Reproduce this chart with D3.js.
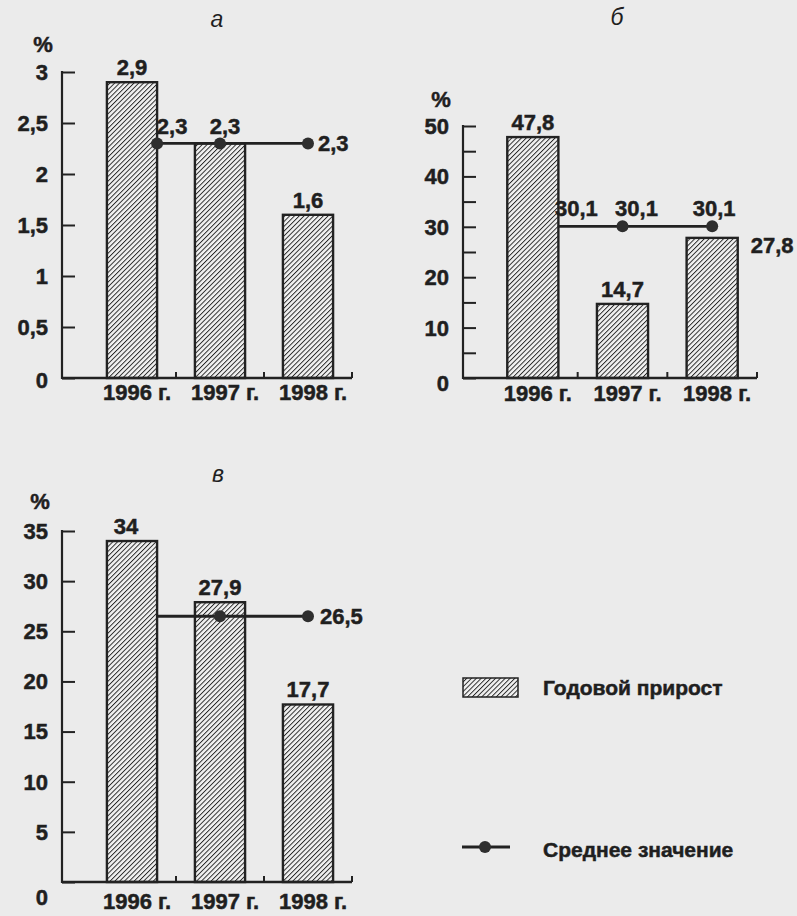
<!DOCTYPE html>
<html>
<head>
<meta charset="utf-8">
<script src="https://cdn.jsdelivr.net/npm/d3@7"></script>
<style>
  html, body { margin: 0; padding: 0; background: #ebebeb; }
  svg { display: block; }
  text { font-family: "Liberation Sans", Arial, sans-serif; fill: #1f1f1f; }
  text.b { font-weight: bold; stroke: #1f1f1f; stroke-width: 0.5; }
</style>
</head>
<body>
<div id="chart"></div>
<script>
// Data
const years = ['1996 г.', '1997 г.', '1998 г.'];

const growthA = [2.9, 2.3, 1.6];
const meanA = [2.3, 2.3, 2.3];
const ticksA = [0, 0.5, 1, 1.5, 2, 2.5, 3];

const growthB = [47.8, 14.7, 27.8];
const meanB = [30.1, 30.1, 30.1];
const ticksB = [0, 5, 10, 15, 20, 25, 30, 35, 40, 45, 50];
const labelsB = [0, 10, 20, 30, 40, 50];

const growthC = [34, 27.9, 17.7];
const meanC = [26.5, 26.5, 26.5];
const ticksC = [0, 5, 10, 15, 20, 25, 30, 35];

const legendItems = ['Годовой прирост', 'Среднее значение'];

const width = 797;
const height = 916;
const ink = '#222';
const fs = 22;
const fmt = v => String(v).replace('.', ',');

const svg = d3.select('#chart')
  .append('svg')
  .attr('width', width)
  .attr('height', height);

// hatch pattern
const hs = 3.4;
const defs = svg.append('defs');
const pat = defs.append('pattern')
  .attr('id', 'hatch')
  .attr('patternUnits', 'userSpaceOnUse')
  .attr('width', hs)
  .attr('height', hs)
  .attr('patternTransform', 'rotate(45)');
pat.append('rect').attr('width', hs).attr('height', hs).attr('fill', '#f2f2f2');
pat.append('line')
  .attr('x1', 0).attr('y1', 0).attr('x2', 0).attr('y2', hs)
  .attr('stroke', '#262626').attr('stroke-width', 1.9);

// panel layouts
const charts = [
  {
    title: 'а', growth: growthA, mean: meanA, ticks: ticksA, labels: ticksA, domain: [0, 3],
    axisX: 62, band: [88, 352], y0: 378, y1: 72,
    titlePos: [217, 27], pctPos: [43, 52], yearY: 400, zeroDy: 2,
    firstDot: true,
    meanLabels: [{ dx: 15, dy: -9 }, { dx: 5, dy: -9 }, { dx: 10, dy: 8, anchor: 'start' }],
    barLabels: [{}, null, {}]
  },
  {
    title: 'б', growth: growthB, mean: meanB, ticks: ticksB, labels: labelsB, domain: [0, 50],
    axisX: 463, band: [488, 757], y0: 378, y1: 126,
    titlePos: [617, 25], pctPos: [441, 107], yearY: 401, zeroDy: 5,
    firstDot: false,
    meanLabels: [{ dx: 18, dy: -10 }, { dx: 14, dy: -10 }, { dx: 2, dy: -10 }],
    barLabels: [{}, {}, { right: true }]
  },
  {
    title: 'в', growth: growthC, mean: meanC, ticks: ticksC, labels: ticksC, domain: [0, 35],
    axisX: 62, band: [88, 352], y0: 882, y1: 531,
    titlePos: [218, 482], pctPos: [40, 509], yearY: 909, zeroDy: 15,
    firstDot: false,
    meanLabels: [null, null, { dx: 12, dy: 8, anchor: 'start' }],
    barLabels: [{ dx: -6 }, {}, {}]
  }
];

charts.forEach(c => {
  const g = svg.append('g');
  const x = d3.scaleBand().domain(years).range(c.band).paddingInner(0.43).paddingOuter(0.215);
  const y = d3.scaleLinear().domain(c.domain).range([c.y0, c.y1]);

  // title and unit
  g.append('text').attr('x', c.titlePos[0]).attr('y', c.titlePos[1])
    .attr('text-anchor', 'middle').attr('font-style', 'italic')
    .attr('font-size', 23).text(c.title);
  g.append('text').attr('class', 'b').attr('x', c.pctPos[0]).attr('y', c.pctPos[1])
    .attr('text-anchor', 'middle')
    .attr('font-size', fs).text('%');

  // bars
  g.selectAll('rect.bar')
    .data(c.growth)
    .enter()
    .append('rect')
    .attr('class', 'bar')
    .attr('x', (d, i) => x(years[i]))
    .attr('y', d => y(d))
    .attr('width', x.bandwidth())
    .attr('height', d => c.y0 - y(d))
    .attr('fill', 'url(#hatch)')
    .attr('stroke', ink)
    .attr('stroke-width', 2.4);

  // y axis
  const yAxis = d3.axisRight(y).tickValues(c.ticks).tickSize(13).tickFormat('');
  const ya = g.append('g').attr('transform', `translate(${c.axisX},0)`).call(yAxis);
  ya.select('.domain').remove();
  ya.selectAll('line').attr('stroke', ink).attr('stroke-width', 2);
  g.append('line').attr('x1', c.axisX).attr('x2', c.axisX)
    .attr('y1', y(c.domain[0]) + 1).attr('y2', y(c.domain[1]) - 1)
    .attr('stroke', ink).attr('stroke-width', 2.2);

  g.selectAll('text.tick-label')
    .data(c.labels)
    .enter()
    .append('text')
    .attr('class', 'b')
    .attr('x', c.axisX - 14)
    .attr('y', d => y(d) + (d === 0 ? c.zeroDy : 0))
    .attr('dy', '0.36em')
    .attr('text-anchor', 'end')
    .attr('font-size', fs)
    .text(fmt);

  // x axis with boundary ticks
  g.append('line').attr('x1', c.axisX).attr('x2', c.band[1])
    .attr('y1', c.y0).attr('y2', c.y0)
    .attr('stroke', ink).attr('stroke-width', 2.4);
  g.selectAll('line.xtick')
    .data(years)
    .enter()
    .append('line')
    .attr('class', 'xtick')
    .attr('x1', d => x(d) + x.step() * 0.785)
    .attr('x2', d => x(d) + x.step() * 0.785)
    .attr('y1', c.y0).attr('y2', c.y0 - 6)
    .attr('stroke', ink).attr('stroke-width', 2);

  g.selectAll('text.year')
    .data(years)
    .enter()
    .append('text')
    .attr('class', 'b')
    .attr('x', d => x(d) + x.bandwidth() / 2 + 5)
    .attr('y', c.yearY)
    .attr('text-anchor', 'middle')
    .attr('font-size', fs)
    .text(d => d);

  // bar value labels
  c.growth.forEach((v, i) => {
    const p = c.barLabels[i];
    if (!p) return;
    const t = g.append('text').attr('class', 'b').attr('font-size', fs).text(fmt(v));
    if (p.right) {
      t.attr('x', x(years[i]) + x.bandwidth() + 13).attr('y', y(v) + 15).attr('text-anchor', 'start');
    } else {
      t.attr('x', x(years[i]) + x.bandwidth() / 2 + (p.dx || 0)).attr('y', y(v) - 7).attr('text-anchor', 'middle');
    }
  });

  // mean line
  const px = i => i === 0 ? x(years[0]) + x.bandwidth() : x(years[i]) + x.bandwidth() / 2;
  const line = d3.line().x((d, i) => px(i)).y(d => y(d));
  g.append('path').datum(c.mean)
    .attr('d', line)
    .attr('fill', 'none')
    .attr('stroke', ink)
    .attr('stroke-width', 2.8);
  g.selectAll('circle.dot')
    .data(c.mean.map((d, i) => ({ v: d, i })).filter(d => d.i > 0 || c.firstDot))
    .enter()
    .append('circle')
    .attr('class', 'dot')
    .attr('cx', d => px(d.i))
    .attr('cy', d => y(d.v))
    .attr('r', 6)
    .attr('fill', '#2e2e2e');

  c.mean.forEach((v, i) => {
    const p = c.meanLabels[i];
    if (!p) return;
    g.append('text')
      .attr('class', 'b')
      .attr('x', px(i) + p.dx)
      .attr('y', y(v) + p.dy)
      .attr('text-anchor', p.anchor || 'middle')
      .attr('font-size', fs)
      .text(fmt(v));
  });
});

// legend
const lg = svg.append('g');
lg.append('rect').attr('x', 463).attr('y', 678).attr('width', 55).attr('height', 19)
  .attr('fill', 'url(#hatch)').attr('stroke', ink).attr('stroke-width', 1.5);
lg.append('text').attr('class', 'b').attr('x', 543).attr('y', 695)
  .attr('font-size', 21).text(legendItems[0]);
lg.append('line').attr('x1', 462).attr('x2', 510).attr('y1', 847).attr('y2', 847)
  .attr('stroke', ink).attr('stroke-width', 2.8);
lg.append('circle').attr('cx', 485).attr('cy', 847).attr('r', 6).attr('fill', '#2e2e2e');
lg.append('text').attr('class', 'b').attr('x', 543).attr('y', 857)
  .attr('font-size', 21).text(legendItems[1]);
</script>
</body>
</html>
